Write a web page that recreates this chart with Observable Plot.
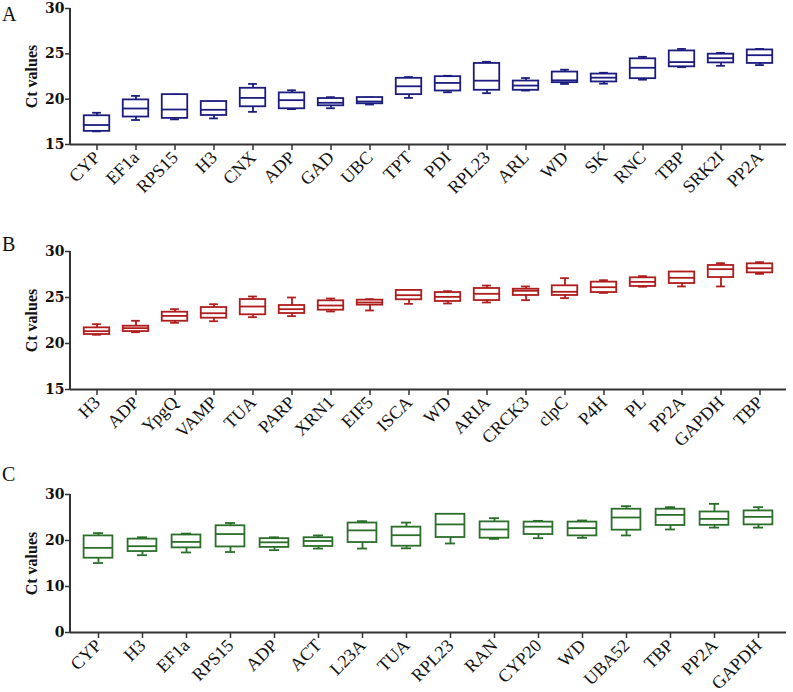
<!DOCTYPE html>
<html>
<head>
<meta charset="utf-8">
<script src="https://cdn.jsdelivr.net/npm/d3@7"></script>
<script src="https://cdn.jsdelivr.net/npm/@observablehq/plot@0.6"></script>
<style>
  body { margin: 0; background: #fff; }
  #wrap { position: relative; width: 793px; height: 692px; overflow: hidden; background: #fff; }
  .panel { position: absolute; left: 0; }
  .letter { position: absolute; left: 2px; font-family: "Liberation Serif", "DejaVu Serif", serif; font-size: 20px; color: #111; line-height: 1; }
</style>
</head>
<body>
<div id="wrap"></div>
<script>
// ---------- Panel A ----------
const genesA = ["CYP","EF1a","RPS15","H3","CNX","ADP","GAD","UBC","TPT","PDI","RPL23","ARL","WD","SK","RNC","TBP","SRK2I","PP2A"];
const minA = [16.45,17.7,17.77,17.88,18.6,18.9,19.0,19.41,20.14,20.76,20.66,20.95,21.68,21.71,22.15,23.53,23.68,23.76];
const q1A  = [16.45,18.03,17.88,18.2,19.16,18.94,19.27,19.49,20.5,20.9,20.98,20.98,21.82,21.9,22.26,23.57,24.0,23.94];
const medA = [17.15,18.97,18.86,18.83,20.14,19.89,19.6,19.74,21.42,21.79,22.04,21.5,22.08,22.37,23.46,24.09,24.52,24.85];
const q3A  = [18.17,19.92,20.5,19.74,21.2,20.69,20.07,20.18,22.3,22.48,23.94,22.0,22.99,22.77,24.45,25.32,24.96,25.43];
const maxA = [18.5,20.36,20.5,19.74,21.68,20.98,20.22,20.18,22.44,22.58,24.12,22.33,23.25,22.91,24.67,25.54,25.1,25.54];

// ---------- Panel B ----------
const genesB = ["H3","ADP","YpgQ","VAMP","TUA","PARP","XRN1","EIF5","ISCA","WD","ARIA","CRCK3","clpC","P4H","PL","PP2A","GAPDH","TBP"];
const minB = [20.95,21.23,22.25,22.42,22.86,22.97,23.48,23.59,24.31,24.35,24.46,24.71,24.93,25.5,26.17,26.2,26.2,27.57];
const q1B  = [20.98,21.3,22.42,22.75,23.12,23.26,23.62,24.17,24.75,24.57,24.67,25.22,25.22,25.54,26.2,26.52,27.17,27.68];
const medB = [21.34,21.67,23.0,23.29,24.02,23.73,24.13,24.46,25.25,25.07,25.4,25.73,25.62,26.12,26.7,27.14,28.08,28.18];
const q3B  = [21.7,21.88,23.4,23.91,24.78,24.13,24.64,24.71,25.77,25.54,25.98,25.9,26.27,26.67,27.14,27.77,28.48,28.66];
const maxB = [22.1,22.47,23.73,24.27,25.11,25.0,24.89,24.82,25.8,25.69,26.3,26.2,27.1,26.88,27.32,27.79,28.73,28.84];

// ---------- Panel C ----------
const genesC = ["CYP","H3","EF1a","RPS15","ADP","ACT","L23A","TUA","RPL23","RAN","CYP20","WD","UBA52","TBP","PP2A","GAPDH"];
const minC = [15.1,16.8,17.4,17.5,17.9,18.25,18.25,18.3,19.35,20.35,20.5,20.57,21.1,22.4,22.8,22.8];
const q1C  = [16.15,17.6,18.4,18.6,18.5,18.7,19.56,18.76,20.65,20.5,21.3,21.0,22.24,23.26,23.3,23.4];
const medC = [18.4,18.76,19.7,21.4,19.6,19.9,22.2,21.15,23.5,22.4,23.0,22.7,25.0,25.57,24.7,25.14];
const q3C  = [21.0,20.3,21.2,23.2,20.4,20.6,23.8,22.9,25.7,24.05,24.0,24.0,26.8,26.8,26.2,26.43];
const maxC = [21.6,20.7,21.5,23.8,20.7,21.1,24.2,23.9,25.7,24.85,24.27,24.35,27.46,27.24,27.96,27.24];

const yTicksAB = [15, 20, 25, 30];
const yTicksC = [0, 10, 20, 30];

function table(genes, mn, q1, md, q3, mx) {
  return genes.map((g, i) => ({gene: g, min: mn[i], q1: q1[i], med: md[i], q3: q3[i], max: mx[i]}));
}

const serif = "'Liberation Serif', 'DejaVu Serif', serif";
const W = 793;

function panel({rows, genes, domain, ticks, color, top, height, marginBottom, letter, letterTop}) {
  const bandW = (W - 70 - 7) / genes.length;
  const boxInset = bandW * 0.17;
  const capInset = bandW * 0.38;
  const sw = 1.8;
  const chart = Plot.plot({
    width: W,
    height,
    marginTop: 8,
    marginLeft: 70,
    marginRight: 7,
    marginBottom,
    style: {fontFamily: serif, background: "transparent", color: "#111"},
    x: {domain: genes, padding: 0, align: 0.5},
    y: {domain, ticks},
    marks: [
      // whiskers
      Plot.ruleX(rows, {x: "gene", y1: "min", y2: "q1", stroke: color, strokeWidth: sw}),
      Plot.ruleX(rows, {x: "gene", y1: "q3", y2: "max", stroke: color, strokeWidth: sw}),
      Plot.tickY(rows, {x: "gene", y: "min", stroke: color, strokeWidth: sw, insetLeft: capInset, insetRight: capInset}),
      Plot.tickY(rows, {x: "gene", y: "max", stroke: color, strokeWidth: sw, insetLeft: capInset, insetRight: capInset}),
      // boxes
      Plot.barY(rows, {x: "gene", y1: "q1", y2: "q3", fill: "white", stroke: color, strokeWidth: sw, insetLeft: boxInset, insetRight: boxInset}),
      Plot.tickY(rows, {x: "gene", y: "med", stroke: color, strokeWidth: sw, insetLeft: boxInset, insetRight: boxInset}),
      // axes
      Plot.axisY({ticks, tickSize: 5, tickFormat: () => "", stroke: "#333", strokeWidth: 1.5, fontSize: 17,
                  label: "Ct values", labelAnchor: "center", labelArrow: "none", labelOffset: 45}),
      Plot.text(ticks, {y: d => d, frameAnchor: "left", dx: -6, textAnchor: "end",
                        fontSize: 14, fontWeight: "bold", fill: "#111", fontFamily: "'DejaVu Serif', serif"}),
      Plot.axisX({tickSize: 6, tickPadding: 4, tickRotate: -45, fontSize: 18, stroke: "#333", strokeWidth: 1.5, label: null}),
      Plot.ruleY([domain[0]], {stroke: "#333", strokeWidth: 2})
    ]
  });
  chart.classList.add("panel");
  chart.style.top = top + "px";
  chart.style.overflow = "visible";
  const sel = d3.select(chart);
  // vertical axis line along the frame's left edge
  const yS = chart.scale("y");
  sel.append("line")
    .attr("x1", 70).attr("x2", 70)
    .attr("y1", yS.apply(domain[1])).attr("y2", yS.apply(domain[0]))
    .attr("stroke", "#333").attr("stroke-width", 2);
  sel.selectAll("text").each(function() {
    const t = this.textContent.trim();
    if (t.indexOf("Ct values") >= 0) {
      this.style.fontWeight = "bold";
      this.style.fontSize = "16px";
    }
    this.setAttribute("fill", "#111");
  });
  const wrap = document.getElementById("wrap");
  wrap.appendChild(chart);
  const l = document.createElement("div");
  l.className = "letter";
  l.style.top = letterTop + "px";
  l.textContent = letter;
  wrap.appendChild(l);
}

panel({rows: table(genesA, minA, q1A, medA, q3A, maxA), genes: genesA, domain: [15, 30], ticks: yTicksAB,
       color: "#1c1c80", top: 0, height: 210, marginBottom: 66, letter: "A", letterTop: 4});
panel({rows: table(genesB, minB, q1B, medB, q3B, maxB), genes: genesB, domain: [15, 30], ticks: yTicksAB,
       color: "#b01c1c", top: 243, height: 211, marginBottom: 65, letter: "B", letterTop: 234});
panel({rows: table(genesC, minC, q1C, medC, q3C, maxC), genes: genesC, domain: [0, 30], ticks: yTicksC,
       color: "#2a6e2a", top: 486, height: 206, marginBottom: 60, letter: "C", letterTop: 464});
</script>
</body>
</html>
